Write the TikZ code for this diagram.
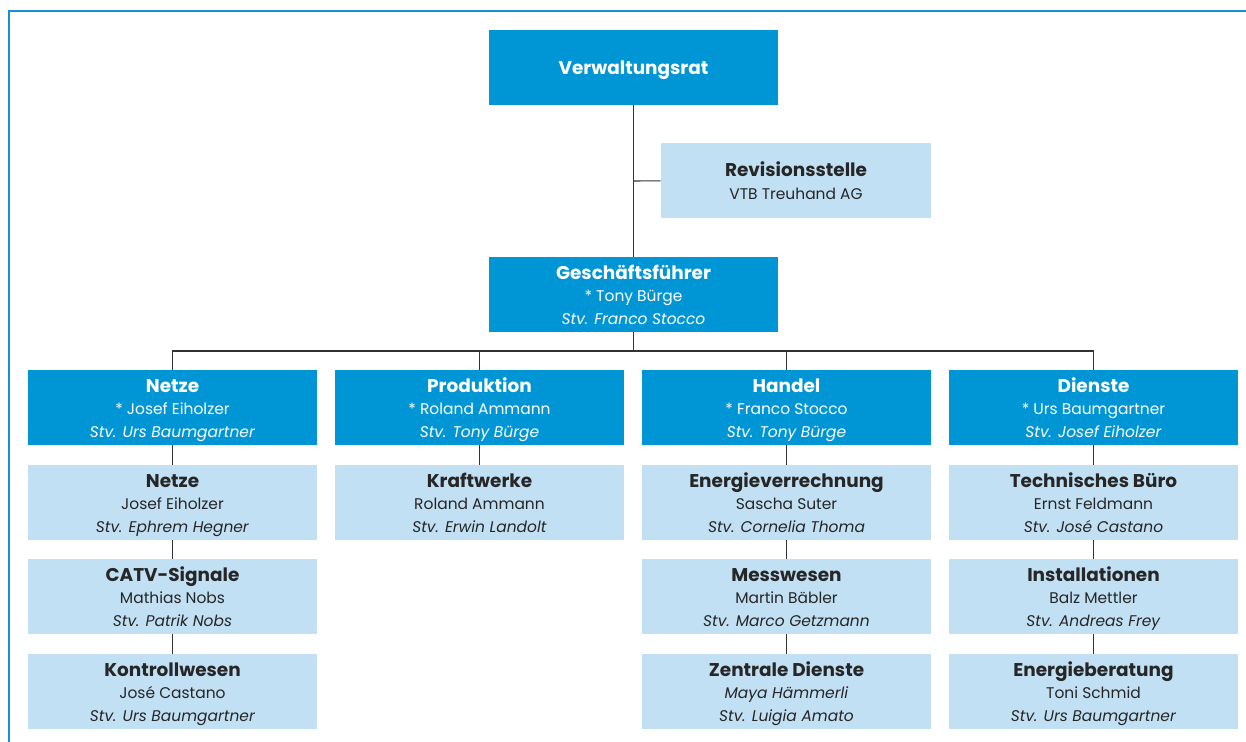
\documentclass[tikz,border=0pt]{standalone}
\usepackage{fontspec}
\setmainfont{Poppins}
\definecolor{vsblue}{RGB}{0,150,214}
\definecolor{vslight}{RGB}{194,224,244}
\definecolor{vsframe}{RGB}{26,143,208}
% three lines: unit, head, deputy
\newcommand\orgstrut{\rule[-3.8pt]{0pt}{16.1pt}}
\newcommand\orghead[1]{{\fontsize{10.5}{12.7}\selectfont\bfseries\orgstrut #1}}
\newcommand\orgtext[3]{\orghead{#1}\\\strut #2\\\strut\textit{#3}}

\begin{document}
\begin{tikzpicture}[x=0.02cm, y=-0.02cm,
	every node/.style={font=\fontsize{8.8}{12.7}\selectfont, align=center, inner sep=0pt,
		minimum width=5.78cm, minimum height=1.5cm},
	chief/.style={fill=vsblue, text=white},
	dept/.style={fill=vslight, text=black!85},
	link/.style={line width=0.6pt, black!80}]
	\useasboundingbox (0,0) rectangle (1246,742);

	% 1. Rahmen
	\draw[vsframe, line width=1.1pt] (9,742) -- (9,11) -- (1246,11);

	% 2. Leitung
	\node[chief] (vr) at (633.5,67.5) {\orghead{Verwaltungsrat}};
	\node[dept, minimum width=5.4cm] (rev) at (796,180.5)
		{\orghead{Revisionsstelle}\\\strut VTB Treuhand AG};
	\node[chief] (gf) at (633.5,294.5) {\orgtext{Geschäftsführer}{* Tony Bürge}{Stv. Franco Stocco}};

	% 3. Abteilungen
	\node[chief] (netze)   at (172.5,407.5)  {\orgtext{Netze}{* Josef Eiholzer}{Stv. Urs Baumgartner}};
	\node[chief] (prod)    at (479.5,407.5)  {\orgtext{Produktion}{* Roland Ammann}{Stv. Tony Bürge}};
	\node[chief] (handel)  at (786.5,407.5)  {\orgtext{Handel}{* Franco Stocco}{Stv. Tony Bürge}};
	\node[chief] (dienste) at (1093.5,407.5) {\orgtext{Dienste}{* Urs Baumgartner}{Stv. Josef Eiholzer}};

	% 4. Bereiche
	\node[dept] (n1) at (172.5,502.5) {\orgtext{Netze}{Josef Eiholzer}{Stv. Ephrem Hegner}};
	\node[dept] (n2) at (172.5,596.5) {\orgtext{CATV-Signale}{Mathias Nobs}{Stv. Patrik Nobs}};
	\node[dept] (n3) at (172.5,691.5) {\orgtext{Kontrollwesen}{José Castano}{Stv. Urs Baumgartner}};

	\node[dept] (p1) at (479.5,502.5) {\orgtext{Kraftwerke}{Roland Ammann}{Stv. Erwin Landolt}};

	\node[dept] (h1) at (786.5,502.5) {\orgtext{Energieverrechnung}{Sascha Suter}{Stv. Cornelia Thoma}};
	\node[dept] (h2) at (786.5,596.5) {\orgtext{Messwesen}{Martin Bäbler}{Stv. Marco Getzmann}};
	\node[dept] (h3) at (786.5,691.5) {\orgtext{Zentrale Dienste}{\textit{Maya Hämmerli}}{Stv. Luigia Amato}};

	\node[dept] (d1) at (1093.5,502.5) {\orgtext{Technisches Büro}{Ernst Feldmann}{Stv. José Castano}};
	\node[dept] (d2) at (1093.5,596.5) {\orgtext{Installationen}{Balz Mettler}{Stv. Andreas Frey}};
	\node[dept] (d3) at (1093.5,691.5) {\orgtext{Energieberatung}{Toni Schmid}{Stv. Urs Baumgartner}};

	% 5. Verbindungen
	\draw[link] (vr) -- (gf);
	\coordinate (revjoin) at (633.5,181);
	\draw[link] (revjoin) -- (rev);
	\coordinate (bus) at (633.5,351);
	\draw[link] (gf) -- (bus);
	\draw[link] (netze.north) |- (bus) -| (dienste.north);
	\draw[link] (prod.north) -- (prod.north |- bus);
	\draw[link] (handel.north) -- (handel.north |- bus);
	\foreach \a/\b in {netze/n1, n1/n2, n2/n3, prod/p1, handel/h1, h1/h2, h2/h3, dienste/d1, d1/d2, d2/d3}
		\draw[link] (\a) -- (\b);
\end{tikzpicture}
\end{document}
